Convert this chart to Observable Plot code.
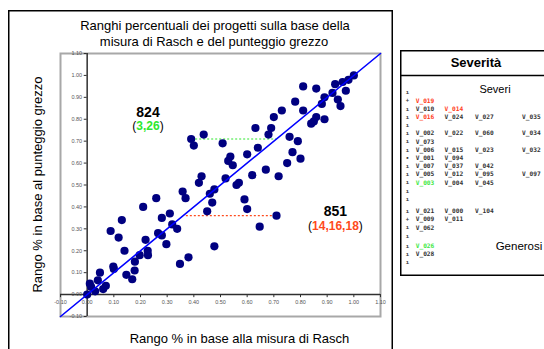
<!DOCTYPE html>
<html>
<head>
<meta charset="utf-8">
<script src="https://cdn.jsdelivr.net/npm/d3@7"></script>
<script src="https://cdn.jsdelivr.net/npm/@observablehq/plot@0.6"></script>
<style>
  html, body { margin: 0; padding: 0; background: #fff; }
  #chart { width: 544px; height: 349px; overflow: hidden; }
</style>
</head>
<body>
<div id="chart"></div>
<script>
// ---------- data ----------
const titleLines = ["Ranghi percentuali dei progetti sulla base della", "misura di Rasch e del punteggio grezzo"];
const xLabel = "Rango % in base alla misura di Rasch";
const yLabel = "Rango % in base al punteggio grezzo";

// rango % (misura di Rasch)
const rankRasch = [
  0.00,0.01,0.015,0.03,0.04,0.048,0.06,0.07,0.088,0.098,
  0.10,0.118,0.13,0.14,0.147,0.169,0.179,0.178,0.197,0.21,
  0.219,0.227,0.228,0.259,0.266,0.28,0.28,0.297,0.31,0.319,
  0.3375,0.348,0.358,0.369,0.38,0.419,0.45,0.46,0.469,0.477,0.477,
  0.429,0.519,0.56,0.569,0.59,0.60,0.71,0.647,0.619,0.67,
  0.718,0.537,0.529,0.546,0.60,0.64,0.508,0.39,0.40,0.437,
  0.631,0.69,0.68,0.759,0.79,0.77,0.80,0.75,
  0.70,0.73,0.78,0.81,0.859,0.81,0.84,0.85,0.859,0.89,
  0.88,0.89,0.92,0.93,0.94,0.95,0.958,0.97,0.98,1.00
];
// rango % (punteggio grezzo)
const rankRaw = [
  0.00,0.05,0.035,0.015,0.065,0.10,0.025,0.04,0.29,0.128,
  0.117,0.26,0.34,0.20,0.09,0.07,0.15,0.11,0.18,0.40,
  0.25,0.20,0.18,0.44,0.28,0.27,0.35,0.23,0.37,0.32,
  0.30,0.14,0.47,0.44,0.17,0.51,0.38,0.46,0.42,0.48,0.22,
  0.54,0.53,0.50,0.51,0.434,0.39,0.36,0.31,0.545,0.57,
  0.54,0.63,0.61,0.59,0.64,0.67,0.69,0.71,0.68,0.73,
  0.76,0.76,0.73,0.72,0.70,0.65,0.62,0.60,
  0.81,0.84,0.88,0.95,0.94,0.84,0.78,0.79,0.81,0.80,
  0.87,0.90,0.92,0.96,0.89,0.86,0.97,0.93,0.98,1.00
];

const axisTicks = [-0.10,0.00,0.10,0.20,0.30,0.40,0.50,0.60,0.70,0.80,0.90,1.00,1.10];
const diagonal = [-0.10, 1.10];

// highlighted projects: id, tied raters, guide from/to, guide level, label spot
const hlIds    = ["824", "851"];
const hlCodes  = ["3,26", "14,16,18"];
const hlX1     = [0.39, 0.37];
const hlX2     = [0.71, 0.71];
const hlY      = [0.71, 0.36];
const hlLabelX = [0.23, 0.933];
const hlLabelY = [0.81, 0.355];
const hlColors = ["#2ee82e", "#ff4a1c"];

// Severità panel
const panelTitle = "Severità";
const panelTop = "Severi";
const panelBottom = "Generosi";
const panelMarkers = ["ı","+","ı","ı","ı","ı","ı","ı","•","ı","ı","ı","ı","ı","ı","+","ı","ı","ı","ı","ı"];
const panelRows = [
  [], ["V_019"], ["V_010","V_014"], ["V_016","V_024","V_027","V_035"], [],
  ["V_002","V_022","V_060","V_034"], ["V_073"], ["V_006","V_015","V_023","V_032"],
  ["V_001","V_094"], ["V_007","V_037","V_042"], ["V_005","V_012","V_095","V_097"],
  ["V_003","V_004","V_045"], [], [], ["V_021","V_000","V_104"], ["V_009","V_011"],
  ["V_062"], [], ["V_026"], ["V_028"], []
];
const panelRed = ["V_019","V_014","V_016"];
const panelGreen = ["V_003","V_026"];

// ---------- build ----------
const points = rankRasch.map((x, i) => ({x, y: rankRaw[i]}));
const guides = hlIds.map((id, i) => ({id, x1: hlX1[i], x2: hlX2[i], y: hlY[i], color: hlColors[i]}));
const fmt = d => d.toFixed(2);
const FONT = "'Liberation Sans', Arial, Helvetica, sans-serif";
const MONO = "'DejaVu Sans Mono', 'Liberation Mono', monospace";

const plot = Plot.plot({
  width: 544,
  height: 349,
  marginLeft: 60,
  marginRight: 164,
  marginTop: 53,
  marginBottom: 33,
  x: {domain: [axisTicks[0], axisTicks[axisTicks.length - 1]], axis: null},
  y: {domain: [axisTicks[0], axisTicks[axisTicks.length - 1]], axis: null},
  color: {type: "identity"},
  style: {background: "#fff", fontFamily: FONT, overflow: "visible"},
  marks: [
    Plot.frame({stroke: "#a8a8a8", strokeWidth: 2}),
    Plot.ruleY([0], {x1: axisTicks[0], x2: axisTicks[axisTicks.length - 1], stroke: "#303030", strokeWidth: 1.5}),
    Plot.ruleX([0], {y1: axisTicks[0], y2: axisTicks[axisTicks.length - 1], stroke: "#303030", strokeWidth: 1.5}),
    Plot.ruleX(axisTicks, {x: d => d, y1: 0, y2: -0.014, stroke: "#303030", strokeWidth: 1}),
    Plot.ruleY(axisTicks, {y: d => d, x1: 0, x2: -0.011, stroke: "#303030", strokeWidth: 1}),
    Plot.text(axisTicks, {x: d => d, y: 0, text: fmt, dy: 8, fontSize: 5.5, fill: "#555"}),
    Plot.text(axisTicks, {x: 0, y: d => d, text: fmt, dx: -5, textAnchor: "end", fontSize: 5.5, fill: "#555"}),
    Plot.link(guides, {x1: "x1", x2: "x2", y1: "y", y2: "y", stroke: "color", strokeWidth: 1.2, strokeDasharray: "2,2"}),
    Plot.dot(points, {x: "x", y: "y", r: 4.1, fill: "#000080", stroke: "none"}),
    Plot.line(diagonal, {x: d => d, y: d => d, stroke: "#0000ff", strokeWidth: 1.6})
  ]
});

document.getElementById("chart").appendChild(plot);
const svg = d3.select(plot);
const sx = plot.scale("x"), sy = plot.scale("y");

// outer border
svg.append("rect").attr("x", 8.75).attr("y", 10.75).attr("width", 383.5).attr("height", 360)
  .attr("fill", "none").attr("stroke", "#000").attr("stroke-width", 1.5);

// title
svg.append("text").attr("x", 215).attr("y", 30).attr("text-anchor", "middle")
  .attr("font-family", FONT).attr("font-size", 13).attr("fill", "#000").text(titleLines[0]);
svg.append("text").attr("x", 214).attr("y", 46).attr("text-anchor", "middle")
  .attr("font-family", FONT).attr("font-size", 13).attr("fill", "#000").text(titleLines[1]);

// axis titles
svg.append("text").attr("x", 239.5).attr("y", 343).attr("text-anchor", "middle")
  .attr("font-family", FONT).attr("font-size", 13).attr("fill", "#000").text(xLabel);
svg.append("text").attr("transform", "translate(41.5,184.5) rotate(-90)").attr("text-anchor", "middle")
  .attr("font-family", FONT).attr("font-size", 13).attr("fill", "#000").text(yLabel);

// annotations
hlIds.forEach((id, i) => {
  const cx = sx.apply(hlLabelX[i]), cy = sy.apply(hlLabelY[i]);
  svg.append("text").attr("x", cx).attr("y", cy).attr("text-anchor", "middle")
    .attr("font-family", FONT).attr("font-size", 14).attr("font-weight", "bold").attr("fill", "#000").text(id);
  const t = svg.append("text").attr("x", cx).attr("y", cy + 13.5).attr("text-anchor", "middle")
    .attr("font-family", FONT).attr("font-size", 12).attr("fill", "#000");
  t.append("tspan").text("(");
  t.append("tspan").attr("font-weight", "bold").attr("fill", hlColors[i]).text(hlCodes[i]);
  t.append("tspan").text(")");
});

// Severità panel
const P = svg.append("g");
P.append("rect").attr("x", 400.75).attr("y", 50.75).attr("width", 160).attr("height", 224.5)
  .attr("fill", "#fff").attr("stroke", "#000").attr("stroke-width", 1.5);
P.append("line").attr("x1", 400.75).attr("x2", 560).attr("y1", 75.5).attr("y2", 75.5)
  .attr("stroke", "#000").attr("stroke-width", 1.5);
P.append("text").attr("x", 476).attr("y", 67).attr("text-anchor", "middle")
  .attr("font-family", FONT).attr("font-size", 13).attr("font-weight", "bold").attr("fill", "#000").text(panelTitle);
P.append("text").attr("x", 495).attr("y", 93).attr("text-anchor", "middle")
  .attr("font-family", FONT).attr("font-size", 11).attr("fill", "#000").text(panelTop);
P.append("text").attr("x", 519).attr("y", 250).attr("text-anchor", "middle")
  .attr("font-family", FONT).attr("font-size", 11.5).attr("fill", "#000").text(panelBottom);

const colX = [415.7, 444.5, 475, 522];
const rowY = i => 100.5 + (i - 1) * 8.2 + (i >= 14 ? 4 : 0) + (i >= 18 ? 2 : 0);
panelRows.forEach((row, i) => {
  const y = rowY(i);
  P.append("text").attr("x", 407.5).attr("y", y).attr("dy", "0.35em").attr("text-anchor", "middle")
    .attr("font-family", MONO).attr("font-weight", "bold")
    .attr("font-size", 5.5).attr("fill", "#333").text(panelMarkers[i]);
  row.forEach((lab, j) => {
    const c = panelRed.includes(lab) ? "#ff3a1a" : panelGreen.includes(lab) ? "#3ee83e" : "#333";
    P.append("text").attr("x", colX[j]).attr("y", y).attr("dy", "0.35em").attr("text-anchor", "start")
      .attr("font-family", MONO).attr("font-weight", "bold")
      .attr("font-size", 6.2).attr("fill", c).text(lab);
  });
});
</script>
</body>
</html>
